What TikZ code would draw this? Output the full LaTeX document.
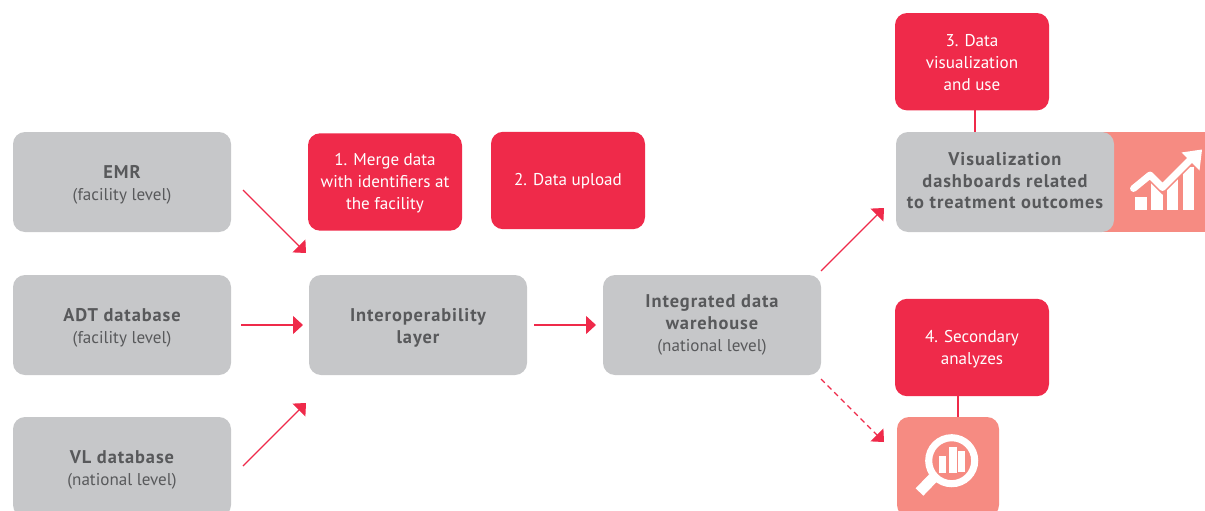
\documentclass[tikz,border=0pt]{standalone}
\usepackage{fontspec}
\setmainfont{PT Sans}
\newfontfamily\titlef[LetterSpace=5]{PT Sans}
\usetikzlibrary{arrows.meta}
\definecolor{redbox}{HTML}{EF2A4A}
\definecolor{grayb}{HTML}{C6C7C9}
\definecolor{salmon}{HTML}{F68B82}
\definecolor{darktxt}{HTML}{58595B}
\newcommand{\ttl}[1]{{\fontsize{13.8}{16.4}\titlef\bfseries #1}}
\newcommand{\tp}[1]{\rule{0pt}{#1}}
\newcommand{\bt}[1]{\rule[-#1]{0pt}{0pt}}
\tikzset{
  x=0.75pt,y=-0.75pt,
  base/.style={rectangle,rounded corners=9pt,inner sep=0pt,align=center,anchor=center,
    font=\fontsize{12.8}{16.4}\selectfont},
  graybox/.style={base,fill=grayb,text=darktxt,minimum width=163.5pt,minimum height=75pt},
  redb/.style={base,fill=redbox,text=white,minimum width=115.5pt,minimum height=73pt},
  salm/.style={base,fill=salmon,minimum width=76.5pt,minimum height=75pt},
  arr/.style={draw=redbox,line width=.9pt,-{Triangle[length=7.5pt,width=13.5pt]}},
  dasharr/.style={arr,dash pattern=on 4pt off 3pt},
  link/.style={draw=redbox,line width=.9pt},
}
\begin{document}
\begin{tikzpicture}
\useasboundingbox (0,0) rectangle (1205,510);
\clip (0,0) rectangle (1205,510);
\fill[salmon] (1090,132) rectangle (1205,232);
\node[salm] (mag) at (948,467) {};
\node[redb] (r3) at (972,61.7) {\tp{10.5pt}3. Data\\visualization\\and use};
\node[redb] (r4) at (972,347.5) {\tp{11.7pt}4. Secondary\\analyzes};
\node[redb] (r1) at (385,182) {\tp{11.3pt}1. Merge data\\with identifiers at\\the facility};
\node[redb] (r2) at (568,180.5) {\tp{10.8pt}2. Data upload};
\node[graybox] (emr) at (122,182) {\tp{14.5pt}\ttl{EMR}\\(facility level)};
\node[graybox] (adt) at (122,325) {\tp{13.5pt}\ttl{ADT database}\\(facility level)};
\node[graybox] (vl) at (122,467) {\tp{14.5pt}\ttl{VL database}\\(national level)};
\node[graybox] (iop) at (418,325) {\tp{14pt}\ttl{Interoperability}\\\ttl{layer}};
\node[graybox] (dw) at (712,325) {\ttl{Integrated data}\\\ttl{warehouse}\\(national level)};
\node[graybox] (viz) at (1005,182) {\ttl{Visualization}\\\ttl{dashboards related}\\\ttl{to treatment outcomes}\bt{2.2pt}};
\coordinate (a1s) at (243,190); \coordinate (a1e) at (306,253);
\coordinate (a2s) at (241,325); \coordinate (a2e) at (303,325);
\coordinate (a3s) at (243,466); \coordinate (a3e) at (306,403);
\coordinate (a4s) at (534,325); \coordinate (a4e) at (596,325);
\coordinate (a5s) at (821,271); \coordinate (a5e) at (884,208);
\coordinate (a6s) at (821,379); \coordinate (a6e) at (884,442);
\draw[arr] (a1s) -- (a1e);
\draw[arr] (a2s) -- (a2e);
\draw[arr] (a3s) -- (a3e);
\draw[arr] (a4s) -- (a4e);
\draw[arr] (a5s) -- (a5e);
\draw[dasharr] (a6s) -- (a6e);
\coordinate (l3) at (975,110); \coordinate (l4) at (958,396);
\draw[link] (l3) -- (l3 |- viz.north);
\draw[link] (l4) -- (l4 |- mag.north);
% chart icon
\fill[white] (1135,197) rectangle (1147,210);
\fill[white] (1151,180) rectangle (1163,210);
\fill[white] (1167,178) rectangle (1178,210);
\fill[white] (1183,167) rectangle (1194,210);
\draw[salmon,line width=7.5pt,line join=miter] (1133.5,188.5) -- (1150,175) -- (1162.5,187.5) -- (1191.5,158.5);
\draw[white,line width=5.2pt,line cap=round,line join=round] (1133.5,188.5) -- (1150,175) -- (1162.5,187.5) -- (1191.5,158.5);
\fill[white] (1202,149.5) -- (1181.5,152.5) -- (1199.5,170.5) -- cycle;
% magnifier icon
\draw[white,line width=5.3pt] (951.7,460.7) circle (23);
\draw[white,line width=8pt] (933,478) -- (919.5,492);
\fill[white] (939,456) rectangle (946,473);
\fill[white] (949,447) rectangle (956.7,473);
\fill[white] (958,451) rectangle (965.3,472);
\end{tikzpicture}
\end{document}
